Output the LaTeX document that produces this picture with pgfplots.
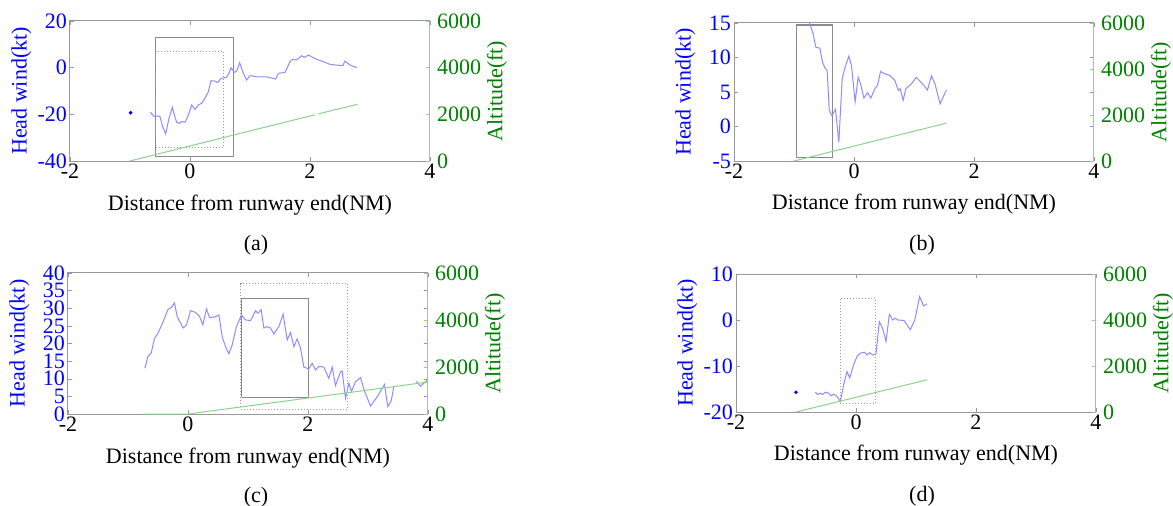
\documentclass[border=0pt]{standalone}
\usepackage{fontspec}
\setmainfont{Liberation Serif}
\usepackage{pgfplots}
\pgfplotsset{compat=1.18}
\definecolor{mblue}{rgb}{0,0,1}
\definecolor{mgreen}{rgb}{0,0.5,0}
\definecolor{lblue}{rgb}{0.55,0.55,1}
\definecolor{lgreen}{rgb}{0.55,0.82,0.55}
\definecolor{frame}{rgb}{0.6,0.6,0.6}

\pgfplotsset{
  lft/.style={scale only axis, width=180pt,
    xmin=-2, xmax=4, xtick={-2,0,2,4}, xticklabels={-2,0,2,4},
    tick align=inside, major tick length=2pt,
    axis line style={frame, line width=0.5pt},
    x tick style={frame}, y tick style={lblue},
    xtick pos=both, ytick pos=both,
    xticklabel pos=lower, yticklabel pos=left,
    tick label style={font=\fontsize{11}{12}\selectfont},
    label style={font=\fontsize{11}{12}\selectfont},
    yticklabel style={mblue, xshift=2pt}, xticklabel style={yshift=2pt},
    ylabel style={mblue, at={(axis description cs:-0.135,0.5)}, anchor=center},
    xlabel style={at={(axis description cs:0.5,-0.315)}, anchor=center},
    xlabel={Distance from runway end(NM)}, ylabel={Head wind(kt)}},
  rgt/.style={scale only axis, width=180pt,
    xmin=-2, xmax=4, ymin=0, ymax=6000,
    axis x line=none, axis y line*=right,
    ytick={0,2000,4000,6000}, yticklabels={0,2000,4000,6000},
    tick align=inside, major tick length=2pt,
    axis line style={lgreen, line width=0.5pt}, y tick style={lgreen},
    tick label style={font=\fontsize{11}{12}\selectfont},
    label style={font=\fontsize{11}{12}\selectfont},
    yticklabel style={mgreen},
    ylabel style={mgreen, at={(axis description cs:1.186,0.5)}, anchor=center},
    ylabel={Altitude(ft)}},
  wind/.style={lblue, line width=0.5pt},
  alt/.style={lgreen, line width=0.5pt},
  boxs/.style={frame!90!black, line width=0.6pt},
  boxd/.style={frame, line width=0.5pt, densely dotted},
}

\begin{document}
\begin{tikzpicture}
\useasboundingbox (0,0) rectangle (586.5pt,252.5pt);

% ---------- (a)
\begin{axis}[lft, at={(35pt,172pt)}, anchor=south west, height=70pt,
    ymin=-40, ymax=20, ytick={-40,-20,0,20}, yticklabels={-40,-20,0,20}]
\addplot[boxs] coordinates {(-0.58,-37.9) (0.72,-37.9) (0.72,12.9) (-0.58,12.9) (-0.58,-37.9)};
\addplot[boxd] coordinates {(-0.57,-34) (0.556,-34) (0.556,7.1) (-0.57,7.1) (-0.57,-34)};
\addplot[wind] coordinates {
 (-0.661,-19.1) (-0.594,-21.0) (-0.528,-20.7) (-0.5,-21.0) (-0.456,-25.3)
 (-0.406,-28.4) (-0.35,-21.7) (-0.294,-17.0) (-0.261,-20.3) (-0.222,-23.4)
 (-0.178,-23.9) (-0.139,-23.1) (-0.083,-23.4) (-0.028,-20.3) (0.028,-16.0)
 (0.083,-17.9) (0.139,-16.0) (0.194,-15.3) (0.25,-13.1) (0.306,-10.3)
 (0.35,-5.6) (0.406,-5.7) (0.461,-6.4) (0.517,-4.6) (0.611,-4.1)
 (0.656,-2.0) (0.683,0.0) (0.739,-2.0) (0.778,-1.4) (0.828,2.1)
 (0.889,-2.4) (0.944,-5.3) (1.0,-3.4) (1.111,-3.9) (1.278,-3.9)
 (1.428,-4.9) (1.472,-2.4) (1.583,-2.1) (1.667,2.6) (1.711,3.6)
 (1.778,3.3) (1.861,5.1) (1.906,4.4) (1.972,5.4) (2.056,4.3)
 (2.139,3.3) (2.222,2.6) (2.333,1.4) (2.444,1.1) (2.55,0.9)
 (2.58,2.8) (2.67,1.1) (2.78,0.0)};
\addplot[only marks, mark=*, mark size=0.7pt, mblue] coordinates {(-0.99,-19.3)};
\end{axis}
\begin{axis}[rgt, at={(35pt,172pt)}, anchor=south west, height=70pt]
\addplot[alt] coordinates {(-1,0) (0.72,1110) (2.08,1980)};
\addplot[alt] coordinates {(2.14,2020) (2.79,2430)};
\end{axis}
\node[font=\fontsize{11}{12}\selectfont] at (128pt,130pt) {(a)};

% ---------- (b)
\begin{axis}[lft, at={(367pt,172pt)}, anchor=south west, height=69pt,
    ymin=-5, ymax=15, ytick={-5,0,5,10,15}, yticklabels={-5,0,5,10,15}]
\addplot[boxs] coordinates {(-0.96,-4.5) (-0.36,-4.5) (-0.36,14.7) (-0.96,14.7) (-0.96,-4.5)};
\addplot[wind] coordinates {
 (-0.78,17) (-0.736,14.86) (-0.681,13.41) (-0.636,11.49) (-0.569,11.35)
 (-0.525,9.33) (-0.486,8.51) (-0.447,8.12) (-0.414,2.50) (-0.375,1.63)
 (-0.347,1.87) (-0.308,2.50) (-0.253,-2.31) (-0.197,6.92) (-0.153,8.46)
 (-0.086,10.19) (-0.042,8.85) (0.019,3.56) (0.069,7.16) (0.114,6.06)
 (0.164,4.13) (0.225,4.90) (0.281,4.13) (0.347,5.48) (0.392,5.96)
 (0.442,7.98) (0.514,7.64) (0.597,7.40) (0.681,6.68) (0.736,5.24)
 (0.769,5.48) (0.819,3.80) (0.864,5.48) (0.958,6.20) (1.035,7.11)
 (1.12,6.4) (1.225,5.29) (1.29,7.36) (1.35,6.16) (1.435,3.28) (1.54,5.29)};
\end{axis}
\begin{axis}[rgt, at={(367pt,172pt)}, anchor=south west, height=69pt]
\addplot[alt] coordinates {(-1,0) (0.958,1269) (1.54,1645)};
\end{axis}
\node[font=\fontsize{11}{12}\selectfont] at (461pt,130pt) {(b)};

% ---------- (c)
\begin{axis}[lft, at={(34pt,45.5pt)}, anchor=south west, height=70.5pt,
    ymin=0, ymax=40, ytick={0,5,...,40}, yticklabels={0,5,10,15,20,25,30,35,40}]
\addplot[boxd] coordinates {(0.88,1.33) (2.664,1.33) (2.664,36.9) (0.88,36.9) (0.88,1.33)};
\addplot[boxs] coordinates {(0.892,4.74) (2.014,4.74) (2.014,32.7) (0.892,32.7) (0.892,4.74)};
\addplot[wind] coordinates {
 (-0.719,12.98) (-0.669,16.3) (-0.614,17.25) (-0.558,21.5) (-0.514,22.5)
 (-0.431,25.5) (-0.336,29.6) (-0.281,30.2) (-0.225,31.5) (-0.181,27.7)
 (-0.081,24.4) (-0.025,25.3) (0.042,29.3) (0.125,28.8) (0.192,27.7)
 (0.247,25.3) (0.308,29.8) (0.358,27.4) (0.442,27.5) (0.514,28.1)
 (0.569,22.0) (0.625,19.1) (0.681,17.1) (0.736,19.6) (0.808,24.8)
 (0.892,28.1) (0.958,26.7) (1.042,26.5) (1.125,29.3) (1.169,28.6)
 (1.219,29.6) (1.264,24.4) (1.319,24.8) (1.375,24.4) (1.431,22.7)
 (1.514,24.8) (1.586,28.3) (1.653,21.0) (1.708,23.1) (1.764,19.1)
 (1.819,21.3) (1.875,18.7) (1.931,13.3) (2.014,12.8) (2.069,14.4)
 (2.125,12.5) (2.181,13.5) (2.264,13.3) (2.347,10.1) (2.403,13.3)
 (2.458,8.06) (2.542,12.0) (2.569,12.2) (2.625,4.45) (2.681,8.72)
 (2.725,6.35) (2.792,9.19) (2.875,10.3) (2.942,6.5) (3.042,2.27)
 (3.153,4.9) (3.275,8.4) (3.33,2.1) (3.386,3.7) (3.431,7.8)};
\addplot[wind] coordinates {(3.8,9.3) (3.875,7.9) (4.0,9.8)};
\end{axis}
\begin{axis}[rgt, at={(34pt,45.5pt)}, anchor=south west, height=70.5pt]
\addplot[alt] coordinates {(-0.72,0) (0,0) (4,1360)};
\end{axis}
\node[font=\fontsize{11}{12}\selectfont] at (128pt,3.8pt) {(c)};

% ---------- (d)
\begin{axis}[lft, at={(368pt,46.5pt)}, anchor=south west, height=69pt,
    ymin=-20, ymax=10, ytick={-20,-10,0,10}, yticklabels={-20,-10,0,10}]
\addplot[boxd] coordinates {(-0.261,-18.05) (0.333,-18.05) (0.333,4.72) (-0.261,4.72) (-0.261,-18.05)};
\addplot[wind] coordinates {
 (-0.678,-15.7) (-0.639,-16.2) (-0.594,-15.9) (-0.556,-16.2) (-0.511,-15.7)
 (-0.456,-15.9) (-0.417,-16.5) (-0.372,-16.1) (-0.317,-16.6) (-0.261,-17.7)
 (-0.206,-14.1) (-0.15,-11.2) (-0.106,-12.6) (-0.039,-9.7) (0.017,-7.9)
 (0.072,-7.2) (0.139,-7.0) (0.183,-7.6) (0.228,-7.1) (0.278,-7.6)
 (0.333,-7.4) (0.389,-0.34) (0.444,-1.8) (0.5,-4.7) (0.556,1.25)
 (0.611,0.0) (0.656,0.4) (0.70,0.0) (0.80,-0.1) (0.905,-2.1)
 (0.98,0.0) (1.06,5.08) (1.127,3.06) (1.185,3.5)};
\addplot[only marks, mark=*, mark size=0.7pt, mblue] coordinates {(-1.0,-15.7)};
\end{axis}
\begin{axis}[rgt, at={(368pt,46.5pt)}, anchor=south west, height=69pt]
\addplot[alt] coordinates {(-1,0) (0.656,1060) (1.185,1400)};
\end{axis}
\node[font=\fontsize{11}{12}\selectfont] at (461pt,4.5pt) {(d)};
\end{tikzpicture}
\end{document}
